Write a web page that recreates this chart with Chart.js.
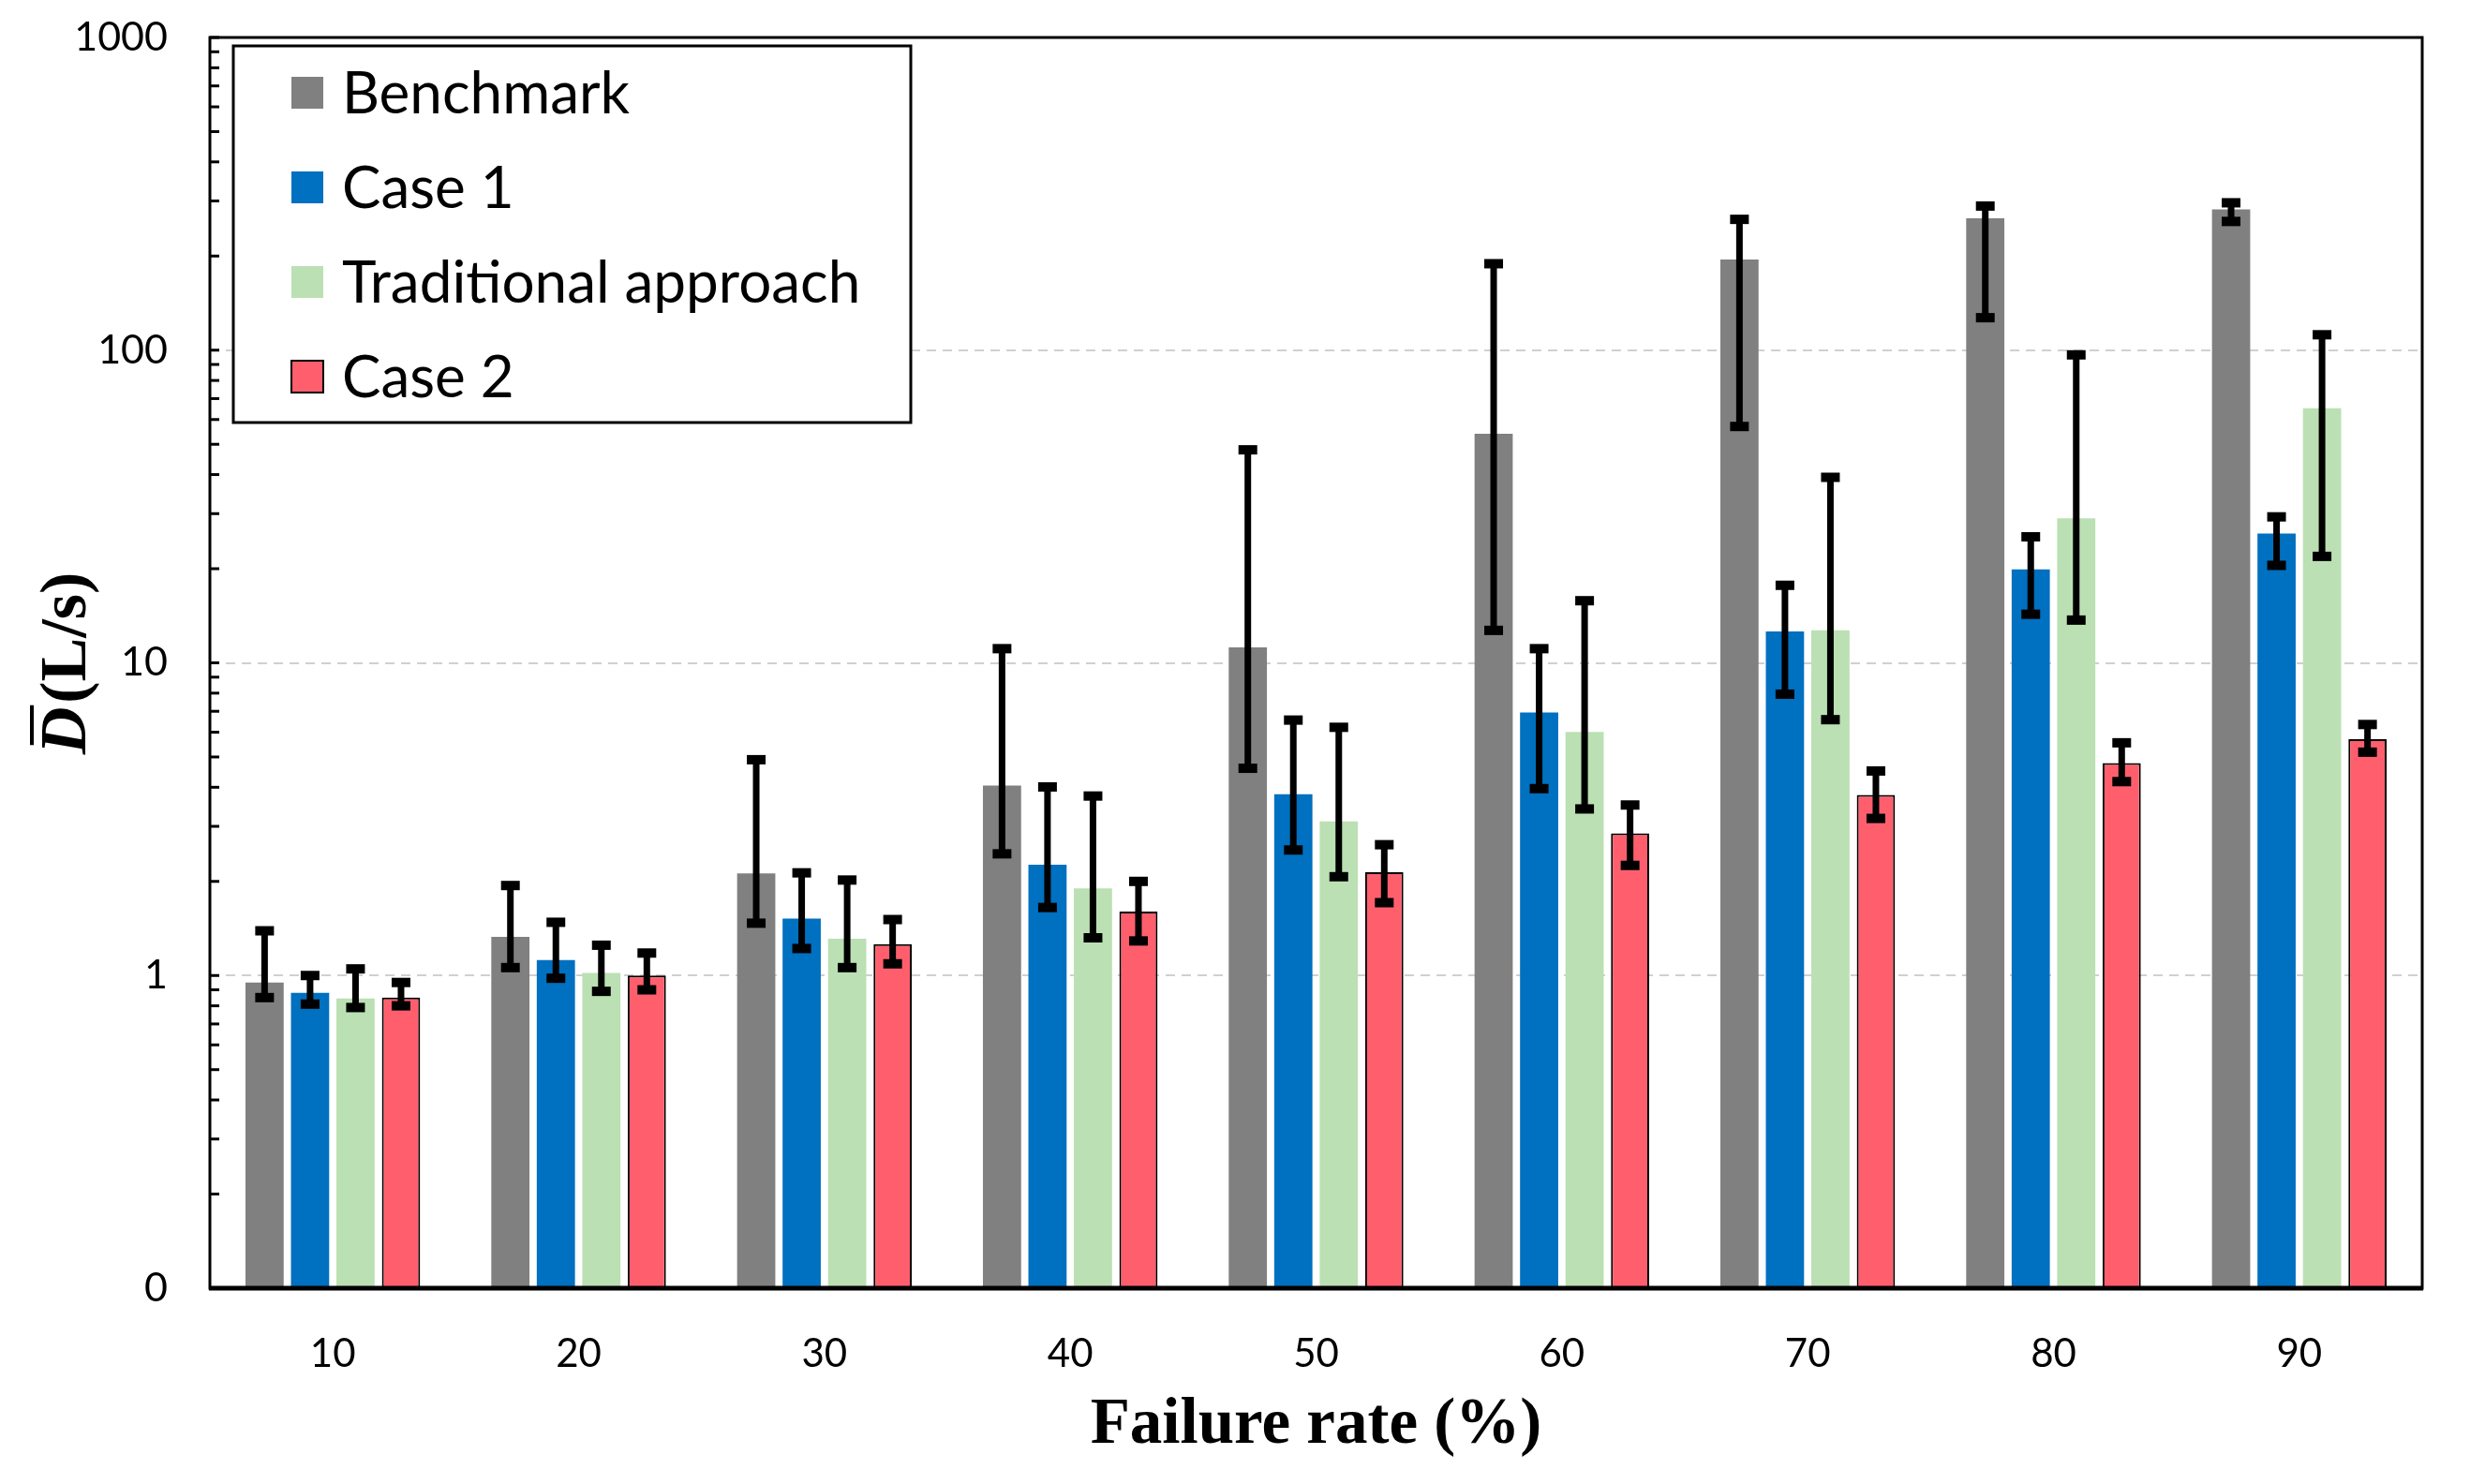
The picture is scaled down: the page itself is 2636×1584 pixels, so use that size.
<!DOCTYPE html>
<html>
<head>
<meta charset="utf-8">
<script src="https://cdn.jsdelivr.net/npm/chart.js@4.4.0/dist/chart.umd.min.js"></script>
<style>
  html, body { margin: 0; padding: 0; background: #fff; }
  #wrap { width: 2636px; height: 1584px; position: relative; }
</style>
</head>
<body>
<div id="wrap"><canvas id="chart"></canvas></div>
<script>
// failure rate categories (%)
const categories = ['10', '20', '30', '40', '50', '60', '70', '80', '90'];
const seriesNames = ['Benchmark', 'Case 1', 'Traditional approach', 'Case 2'];

// mean D (L/s) with lower / upper error bar ends
const benchmark     = [0.95, 1.33, 2.12, 4.05, 11.2, 54,   195, 264, 282];
const benchmarkLow  = [0.85, 1.06, 1.47, 2.45, 4.6,  12.7, 57,  127, 258];
const benchmarkHigh = [1.39, 1.94, 4.9,  11.1, 48,   189,  262, 289, 296];

const case1     = [0.88, 1.12, 1.52, 2.26, 3.8,  6.94, 12.6, 19.9, 25.9];
const case1Low  = [0.81, 0.98, 1.22, 1.65, 2.52, 3.96, 7.94, 14.3, 20.5];
const case1High = [1.0,  1.48, 2.13, 4.01, 6.56, 11.1, 17.7, 25.3, 29.3];

const traditional     = [0.845, 1.02, 1.31, 1.9,  3.11, 6.01, 12.7, 29.0, 65.2];
const traditionalLow  = [0.79,  0.89, 1.06, 1.32, 2.07, 3.41, 6.58, 13.7, 21.9];
const traditionalHigh = [1.05,  1.25, 2.02, 3.75, 6.22, 15.8, 39.2, 96.6, 112];

const case2     = [0.85, 1.0,  1.26, 1.6,  2.14, 2.85, 3.78, 4.78, 5.7];
const case2Low  = [0.80, 0.90, 1.09, 1.29, 1.71, 2.25, 3.18, 4.17, 5.18];
const case2High = [0.95, 1.18, 1.51, 2.0,  2.62, 3.51, 4.51, 5.55, 6.35];

const yTickValues = [];
[0.1, 1, 10, 100].forEach(d => { for (let k = 1; k <= 9; k++) yTickValues.push(+(d * k).toPrecision(3)); });
yTickValues.push(1000);

const errLow  = [benchmarkLow, case1Low, traditionalLow, case2Low];
const errHigh = [benchmarkHigh, case1High, traditionalHigh, case2High];
const colors  = ['#808080', '#0070C0', '#BBE0B3', '#FF5F6D'];

const isDecade = v => Math.abs(Math.log10(v) - Math.round(Math.log10(v))) < 1e-9;

// error bars, frame, inner ticks, legend box and y title
const extras = {
  id: 'extras',
  afterDatasetsDraw(chart) {
    const { ctx } = chart;
    const y = chart.scales.y;
    ctx.save();
    ctx.fillStyle = '#000';
    ctx.strokeStyle = '#000';
    errLow.forEach((lows, di) => {
      chart.getDatasetMeta(di).data.forEach((bar, i) => {
        const yl = y.getPixelForValue(lows[i]);
        const yh = y.getPixelForValue(errHigh[di][i]);
        ctx.lineWidth = 7;
        ctx.beginPath();
        ctx.moveTo(bar.x, yl);
        ctx.lineTo(bar.x, yh);
        ctx.stroke();
        ctx.fillRect(bar.x - 10, yh - 5, 20, 10);
        ctx.fillRect(bar.x - 10, yl - 5, 20, 10);
      });
    });
    ctx.restore();
  },
  afterDraw(chart) {
    const { ctx, chartArea: a } = chart;
    const y = chart.scales.y;
    ctx.save();
    ctx.strokeStyle = '#000';

    // inner tick marks on the y axis
    ctx.lineWidth = 3;
    y.ticks.forEach(t => {
      const py = y.getPixelForValue(t.value);
      ctx.beginPath();
      ctx.moveTo(a.left, py);
      ctx.lineTo(a.left + 10, py);
      ctx.stroke();
    });

    // plot frame
    ctx.lineWidth = 3;
    ctx.strokeRect(a.left, a.top, a.right - a.left, a.bottom - a.top);
    ctx.lineWidth = 5;
    ctx.beginPath();
    ctx.moveTo(a.left - 1, a.bottom);
    ctx.lineTo(a.right + 1, a.bottom);
    ctx.stroke();

    // legend
    const lx = 249, ly = 49, lw = 723, lh = 402;
    ctx.fillStyle = '#fff';
    ctx.fillRect(lx, ly, lw, lh);
    ctx.lineWidth = 3;
    ctx.strokeRect(lx, ly, lw, lh);
    ctx.font = '62px Lato';
    ctx.textBaseline = 'middle';
    chart.data.datasets.forEach((ds, i) => {
      const cy = 99 + i * 101;
      ctx.fillStyle = ds.backgroundColor;
      ctx.fillRect(311, cy - 17, 34, 34);
      if (ds.borderWidth) {
        ctx.lineWidth = 2;
        ctx.strokeRect(311, cy - 17, 34, 34);
      }
      ctx.fillStyle = '#000';
      ctx.fillText(ds.label, 365, cy + 2);
    });

    // y axis title: D with overline, (L/s)
    ctx.translate(68, 708);
    ctx.rotate(-Math.PI / 2);
    const fD = 'italic bold 70px "Liberation Serif"';
    const fR = 'bold 70px "Liberation Serif"';
    ctx.font = fD;
    const wD = ctx.measureText('D').width;
    ctx.font = fR;
    const wR = ctx.measureText('(L/s)').width;
    const start = -(wD + wR + 4) / 2;
    ctx.textBaseline = 'alphabetic';
    ctx.fillStyle = '#000';
    ctx.font = fD;
    ctx.fillText('D', start, 23);
    ctx.font = fR;
    ctx.fillText('(L/s)', start + wD + 4, 23);
    ctx.lineWidth = 4;
    ctx.beginPath();
    ctx.moveTo(start + 10, -34);
    ctx.lineTo(start + wD + 2, -34);
    ctx.stroke();
    ctx.restore();
  }
};

new Chart(document.getElementById('chart'), {
  type: 'bar',
  data: {
    labels: categories,
    datasets: [
      { label: seriesNames[0], data: benchmark, backgroundColor: colors[0], borderWidth: 0 },
      { label: seriesNames[1], data: case1, backgroundColor: colors[1], borderWidth: 0 },
      { label: seriesNames[2], data: traditional, backgroundColor: colors[2], borderWidth: 0 },
      { label: seriesNames[3], data: case2, backgroundColor: colors[3], borderColor: '#000', borderWidth: 2 },
    ],
  },
  options: {
    responsive: true,
    maintainAspectRatio: false,
    animation: false,
    devicePixelRatio: 1,
    barPercentage: 0.84,
    categoryPercentage: 0.74,
    layout: { padding: { left: 0, top: 40, right: 51, bottom: 0 } },
    plugins: { legend: { display: false }, tooltip: { enabled: false } },
    scales: {
      x: {
        afterFit: s => { s.height = 209; },
        grid: { display: false, drawTicks: false },
        border: { display: false },
        ticks: { padding: 45, color: '#000', font: { family: 'Lato', size: 42 } },
        title: {
          display: true,
          text: 'Failure rate (%)',
          color: '#000',
          font: { family: 'Liberation Serif', size: 69, weight: 'bold' },
          padding: { top: 0, bottom: 20 },
        },
      },
      y: {
        type: 'logarithmic',
        min: 0.1,
        max: 1000,
        afterBuildTicks: s => { s.ticks = yTickValues.map(v => ({ value: v, major: isDecade(v) })); },
        afterFit: s => { s.width = 224; s.paddingTop = 0; s.paddingBottom = 0; },
        ticks: {
          autoSkip: false,
          padding: 45,
          color: '#000',
          font: { family: 'Lato', size: 43 },
          callback: v => isDecade(v) ? (v < 1 ? '0' : String(Math.round(v))) : '',
        },
        grid: {
          drawTicks: false,
          lineWidth: 2,
          color: c => (c.tick && isDecade(c.tick.value) && c.tick.value > 0.1 && c.tick.value < 1000) ? '#d0d0d0' : 'rgba(0,0,0,0)',
        },
        border: { display: false, dash: [10, 7] },
      },
    },
  },
  plugins: [extras],
});
</script>
</body>
</html>
